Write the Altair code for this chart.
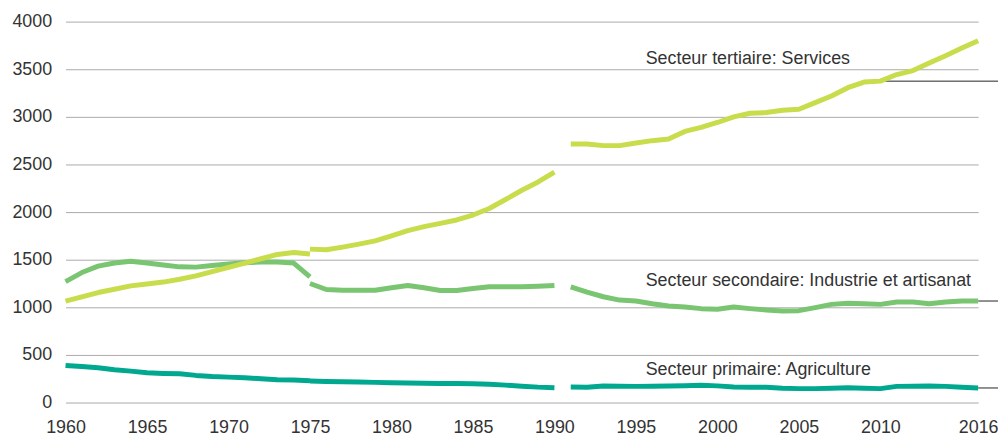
import altair as alt
import pandas as pd

# ---- data ----
years_a = list(range(1960, 1976))   # first segment
years_b = list(range(1975, 1991))   # second segment
years_c = list(range(1991, 2017))   # third segment

services_a = [1065, 1110, 1155, 1190, 1225, 1245, 1265, 1295, 1330, 1375, 1420, 1465, 1510, 1555, 1575, 1560]
services_b = [1611, 1604, 1632, 1663, 1698, 1750, 1806, 1847, 1882, 1917, 1969, 2038, 2132, 2229, 2316, 2420]
services_c = [2715, 2715, 2698, 2698, 2726, 2750, 2767, 2847, 2889, 2941, 3000, 3038, 3045, 3069, 3080,
              3149, 3219, 3306, 3365, 3375, 3444, 3486, 3566, 3642, 3722, 3799]

industry_a = [1270, 1365, 1432, 1465, 1483, 1465, 1445, 1425, 1422, 1440, 1455, 1468, 1476, 1475, 1465, 1320]
industry_b = [1250, 1187, 1180, 1180, 1180, 1205, 1229, 1205, 1177, 1177, 1198, 1215, 1215, 1215, 1222, 1229]
industry_c = [1215, 1160, 1111, 1076, 1066, 1038, 1014, 1003, 986, 979, 1003, 986, 972, 962, 965,
              997, 1031, 1042, 1038, 1031, 1055, 1055, 1038, 1055, 1066, 1066]

agri_a = [389, 378, 365, 344, 330, 312, 306, 302, 285, 274, 267, 260, 250, 240, 236, 229]
agri_b = [226, 222, 218, 215, 212, 208, 205, 203, 201, 199, 197, 192, 183, 172, 162, 156]
agri_c = [163, 160, 174, 172, 170, 172, 174, 177, 181, 175, 163, 160, 160, 150, 146,
          146, 150, 156, 150, 146, 170, 172, 174, 170, 160, 153]

series_names = ["Secteur primaire: Agriculture",
                "Secteur secondaire: Industrie et artisanat",
                "Secteur tertiaire: Services"]
series_colors = ["#00a88f", "#7ac571", "#c9dc4b"]

label_year = [1995.6, 1995.6, 1995.6]
label_value = [292, 1219, 3557]

leader_year = [2016, 2016, 2010]
leader_value = [agri_c[-1], industry_c[-1], services_c[2010 - 1991]]

x_ticks = [1960, 1965, 1970, 1975, 1980, 1985, 1990, 1995, 2000, 2005, 2010, 2016]
y_ticks = [0, 500, 1000, 1500, 2000, 2500, 3000, 3500, 4000]

# ---- build table ----
rows = []
for name, segs in zip(series_names, [
        (agri_a, agri_b, agri_c),
        (industry_a, industry_b, industry_c),
        (services_a, services_b, services_c)]):
    for si, (yrs, vals) in enumerate(zip([years_a, years_b, years_c], segs)):
        for y, v in zip(yrs, vals):
            rows.append({"year": y, "value": v, "series": name, "segment": f"{name}-{si}"})
df = pd.DataFrame(rows)

labels_df = pd.DataFrame({"year": label_year, "value": label_value, "text": series_names})
leaders_df = pd.DataFrame({"year": leader_year, "value": leader_value})

FONT = "Liberation Sans"
W, H = 920, 384

xscale = alt.Scale(domain=[1960, 2016], nice=False, zero=False)
yscale = alt.Scale(domain=[0, 4000], nice=False)
cscale = alt.Scale(domain=series_names, range=series_colors)

x_axis = alt.Axis(values=x_ticks, format="d", title=None, grid=False, domain=False,
                  ticks=False, tickSize=0, labelPadding=16, labelFontSize=18,
                  labelFont=FONT, labelColor="#333333", labelFlush=False,
                  labelOverlap=False)
y_axis = alt.Axis(values=y_ticks, format="d", title=None, grid=True, gridColor="#aaaaaa",
                  gridWidth=1, domain=False, ticks=False, tickSize=0, labelPadding=14,
                  labelFontSize=18, labelFont=FONT, labelColor="#333333", labelFlush=False,
                  labelOverlap=False)

base = alt.Chart(df)

grid_layer = alt.Chart(leaders_df).mark_point(opacity=0).encode(
    x=alt.X("year:Q", scale=xscale, axis=x_axis),
    y=alt.Y("value:Q", scale=yscale, axis=y_axis),
)

leaders = alt.Chart(leaders_df).mark_rule(color="#222222", strokeWidth=1).encode(
    x=alt.X("year:Q", scale=xscale),
    x2=alt.value(W + 20),
    y=alt.Y("value:Q", scale=yscale),
)

line_layers = []
for name in series_names:
    line_layers.append(
        base.transform_filter(alt.datum.series == name).mark_line(
            strokeWidth=5, strokeCap="butt", strokeJoin="round"
        ).encode(
            x=alt.X("year:Q", scale=xscale),
            y=alt.Y("value:Q", scale=yscale),
            color=alt.Color("series:N", scale=cscale, legend=None),
            detail="segment:N",
        )
    )

texts = alt.Chart(labels_df).mark_text(
    align="left", baseline="alphabetic", font=FONT, fontSize=18, color="#333333"
).encode(
    x=alt.X("year:Q", scale=xscale),
    y=alt.Y("value:Q", scale=yscale),
    text="text:N",
)

chart = alt.layer(grid_layer, leaders, *line_layers, texts).properties(
    width=W, height=H,
    autosize=alt.AutoSizeParams(type="none"),
    padding={"left": 58, "top": 12, "right": 20, "bottom": 33},
    background="white",
).configure_view(stroke=None)

chart.save("out.html", embed_options={"renderer": "svg", "actions": False})
